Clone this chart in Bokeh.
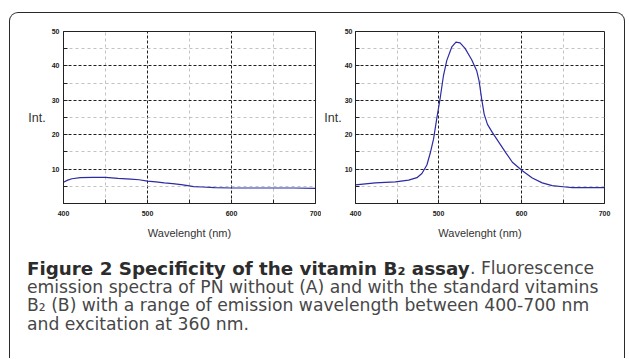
from bokeh.plotting import figure
from bokeh.models import Range1d, FixedTicker, Label, Axis
from bokeh.layouts import row, column
from bokeh.core.properties import value
from bokeh.embed import file_html
from bokeh.resources import INLINE

# ---------------- data ----------------
# (A) PN without vitamin B2
wl_a = [400, 405, 410, 420, 435, 450, 465, 480, 490, 500, 510, 520, 530, 540,
        550, 555, 565, 580, 600, 625, 650, 675, 700]
int_a = [6.2, 6.8, 7.2, 7.5, 7.6, 7.6, 7.3, 7.1, 6.9, 6.5, 6.3, 6.0, 5.8, 5.5,
         5.1, 4.9, 4.8, 4.6, 4.5, 4.5, 4.5, 4.5, 4.4]

# (B) PN with standard vitamin B2
wl_b = [400, 424, 448, 464, 474, 480, 486, 490, 494, 498, 502, 506, 510, 516,
        521, 526, 532, 540, 546, 549, 552, 555, 559, 565, 573, 581, 589, 601,
        613, 625, 637, 653, 661, 700]
int_b = [5.4, 6.0, 6.3, 6.8, 7.5, 8.7, 11.2, 14.6, 18.7, 24.8, 30.6, 37.2, 41.6,
         45.5, 46.9, 46.7, 45.1, 41.8, 38.6, 35.5, 30.4, 26.0, 23.0, 20.6, 17.7,
         14.8, 12.0, 9.5, 7.4, 6.0, 5.2, 4.8, 4.6, 4.6]

x_ticks = [400, 500, 600, 700]
x_minor = [450, 550, 650]
y_ticks = [10, 20, 30, 40, 50]
y_minor = [5, 15, 25, 35, 45]
x_title = "Wavelenght (nm)"
y_title = "Int."

cap_bold = "Figure 2 Specificity of the vitamin B\u2082 assay"
cap_lines = [". Fluorescence",
             "emission spectra of PN without (A) and with the standard vitamins",
             "B\u2082 (B) with a range of emission wavelength between 400-700 nm",
             "and excitation at 360 nm."]

AX_FONT = "Liberation Sans"
CAP_FONT = "DejaVu Sans"
HAS_ORIENT = "axis_label_orientation" in Axis.properties()


def make_plot(xs, ys, left, right, fw, lab_standoff, tick_standoff):
    fh = 172
    p = figure(width=left + fw + right, height=18 + fh + 38,
               x_range=Range1d(400, 700), y_range=Range1d(0, 50),
               min_border_left=left, min_border_right=right,
               min_border_top=18, min_border_bottom=38,
               output_backend="svg", toolbar_location=None)
    p.border_fill_color = None
    p.background_fill_color = "white"
    p.outline_line_color = "#222222"
    p.outline_line_width = 1

    p.line(xs, ys, line_color="#2b2ba3", line_width=1.2)

    xt = FixedTicker(ticks=x_ticks, minor_ticks=x_minor)
    yt = FixedTicker(ticks=y_ticks, minor_ticks=y_minor)
    p.xaxis.ticker = xt
    p.xgrid.ticker = xt
    p.yaxis.ticker = yt
    p.ygrid.ticker = yt

    for g in (p.xgrid, p.ygrid):
        g.grid_line_color = "#1e1e1e"
        g.grid_line_dash = "3 2"
        g.grid_line_width = 1
        g.minor_grid_line_color = "#c2c2c2"
        g.minor_grid_line_dash = "3 3"
        g.minor_grid_line_width = 1

    for ax in (p.xaxis, p.yaxis):
        ax.axis_line_color = "#222222"
        ax.major_tick_in = 4
        ax.major_tick_out = 0
        ax.minor_tick_in = 4
        ax.minor_tick_out = 0
        ax.major_tick_line_color = "#222222"
        ax.minor_tick_line_color = "#222222"
        ax.major_label_text_font = AX_FONT
        ax.major_label_text_font_size = "7px"
        ax.major_label_text_font_style = "bold"
        ax.major_label_text_color = "#222222"

    p.xaxis.major_label_standoff = 7
    p.yaxis.major_label_standoff = tick_standoff
    p.xaxis.axis_label = x_title
    p.xaxis.axis_label_text_font = AX_FONT
    p.xaxis.axis_label_text_font_size = "11px"
    p.xaxis.axis_label_text_font_style = "normal"
    p.xaxis.axis_label_text_color = "#333333"
    p.xaxis.axis_label_standoff = 8

    if HAS_ORIENT:
        p.yaxis.axis_label = y_title
        p.yaxis.axis_label_orientation = "horizontal"
        p.yaxis.axis_label_text_font = AX_FONT
        p.yaxis.axis_label_text_font_size = "12.5px"
        p.yaxis.axis_label_text_font_style = "normal"
        p.yaxis.axis_label_text_color = "#333333"
        p.yaxis.axis_label_standoff = lab_standoff
    else:
        p.add_layout(Label(x=left - 23, y=fh / 2 + 38, x_units="screen",
                           y_units="screen", text=y_title,
                           text_align="center", text_baseline="middle",
                           text_font=AX_FONT, text_font_size="12.5px",
                           text_color="#333333"))
    return p


p1 = make_plot(wl_a, int_a, 53, 6, 252, 3, 4)
p2 = make_plot(wl_b, int_b, 33, 20, 250, 0, 3)

CW = p1.width + p2.width
CH = 117
cap = figure(width=CW, height=CH, x_range=Range1d(0, CW), y_range=Range1d(CH, 0),
             x_axis_type=None, y_axis_type=None, min_border=0,
             output_backend="svg", toolbar_location=None)
cap.grid.visible = False
cap.outline_line_color = None
cap.border_fill_color = None
cap.background_fill_color = None

F = value(CAP_FONT)
FS = "17.2px"
X0 = 16.5
cap.text(x=[X0], y=[26.5], text=[cap_bold], text_font=F,
         text_font_size="18.3px", text_font_style="bold", text_color="#2c2c2c",
         text_baseline="alphabetic", text_align="left")
cap.text(x=[459.5], y=[26.5], text=cap_lines[:1], text_font=F,
         text_font_size=FS, text_font_style="normal", text_color="#474747",
         text_baseline="alphabetic", text_align="left")
cap.text(x=[X0, X0, X0], y=[45, 63.5, 82], text=cap_lines[1:], text_font=F,
         text_font_size=FS, text_font_style="normal", text_color="#474747",
         text_baseline="alphabetic", text_align="left")

layout = column(row(p1, p2, spacing=0), cap, spacing=0,
                styles={"margin-left": "9px", "margin-top": "12px",
                        "border-left": "1.5px solid #2a2a2a",
                        "border-top": "1.5px solid #2a2a2a",
                        "border-right": "1.5px solid #2a2a2a",
                        "border-radius": "9px 9px 0 0"})

open("out.html", "w").write(file_html(layout, INLINE))
